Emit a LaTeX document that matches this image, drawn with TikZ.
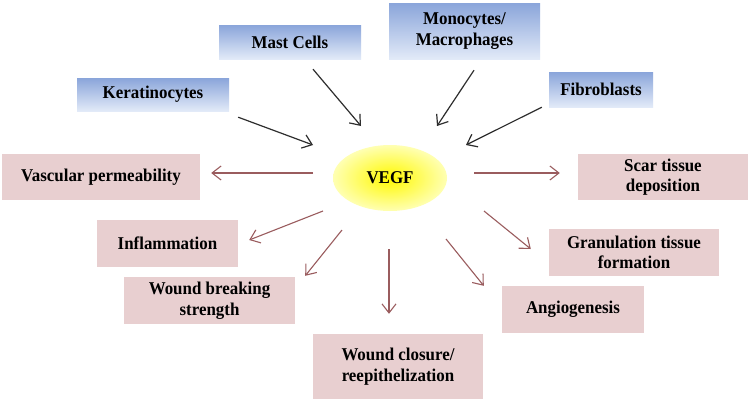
\documentclass[tikz,border=0pt]{standalone}
\usepackage{fontspec}
\setmainfont{Liberation Serif}[FakeStretch=0.94]
\usetikzlibrary{arrows.meta,shapes.geometric}
\definecolor{bluetop}{HTML}{8AA5DA}
\definecolor{bluebot}{HTML}{E2EAF8}
\definecolor{pinkbox}{HTML}{E8CFD0}
\definecolor{inarrow}{HTML}{2E2E2E}
\definecolor{outarrow}{HTML}{9A5C5E}
\tikzset{
  srcbox/.style={rectangle, top color=bluetop, bottom color=bluebot, draw=none,
    align=center, inner sep=0pt, font=\fontsize{18}{20.5}\selectfont\bfseries},
  effbox/.style={rectangle, fill=pinkbox, draw=none,
    align=center, inner sep=0pt, font=\fontsize{18}{20.5}\selectfont\bfseries},
  inarr/.style={draw=inarrow, line width=1.2pt, -{Straight Barb[length=9pt,width=14pt]}},
  outarr/.style={draw=outarrow, line width=1.1pt, -{Straight Barb[length=9pt,width=14pt]}},
}
\begin{document}
\begin{tikzpicture}[x=1pt,y=-1pt]
\useasboundingbox (0,0) rectangle (750,402);
\fill[white] (0,0) rectangle (750,402);
% VEGF
\node[ellipse, minimum width=114pt, minimum height=66pt, inner sep=0pt,
  shading=radial, inner color=yellow!95!orange, outer color=yellow!30,
  font=\fontsize{18}{20.5}\selectfont\bfseries] (vegf) at (390,178) {VEGF};
% sources
\node[srcbox, minimum width=142pt, minimum height=34pt] (mast) at (290,42) {Mast Cells};
\node[srcbox, minimum width=152pt, minimum height=33pt] (kera) at (153,94.5) {Keratinocytes};
\node[srcbox, minimum width=151pt, minimum height=56pt] (mono) at (464.5,31) {Monocytes/\\Macrophages};
\node[srcbox, minimum width=104pt, minimum height=35pt] (fibro) at (601,89.5) {Fibroblasts};
% effects
\node[effbox, minimum width=198pt, minimum height=46pt] (vasc) at (101,177) {Vascular permeability};
\node[effbox, minimum width=170pt, minimum height=46pt] (scar) at (663,177) {Scar tissue\\deposition};
\node[effbox, minimum width=141pt, minimum height=47pt] (infl) at (167.5,243.5) {Inflammation};
\node[effbox, minimum width=171pt, minimum height=47pt] (wbs) at (209.5,300.5) {Wound breaking\\strength};
\node[effbox, minimum width=170pt, minimum height=65pt] (wc) at (398,366.5) {Wound closure/\\reepithelization};
\node[effbox, minimum width=170pt, minimum height=47pt] (gran) at (634,252.5) {Granulation tissue\\formation};
\node[effbox, minimum width=142pt, minimum height=47pt] (angio) at (573,309.5) {Angiogenesis};
% input arrows
\draw[inarr] ([xshift=23pt,yshift=-10pt]mast.south) -- ([xshift=-29pt,yshift=52pt]vegf.center);
\draw[inarr] ([xshift=9pt,yshift=-6pt]kera.south east) -- ([xshift=-77pt,yshift=33pt]vegf.center);
\draw[inarr] ([xshift=9.5pt,yshift=-11pt]mono.south) -- ([xshift=47pt,yshift=52pt]vegf.center);
\draw[inarr] ([xshift=-7pt]fibro.south west) -- ([xshift=76pt,yshift=33pt]vegf.center);
% output arrows
\draw[outarr] ([xshift=-77pt,yshift=5pt]vegf.center) -- ([xshift=11pt,yshift=4pt]vasc.east);
\draw[outarr] ([xshift=84pt,yshift=5pt]vegf.center) -- ([xshift=-18pt,yshift=4pt]scar.west);
\draw[outarr] ([xshift=-67pt,yshift=-33pt]vegf.center) -- ([xshift=11pt,yshift=3.5pt]infl.east);
\draw[outarr] ([xshift=-48pt,yshift=-52pt]vegf.center) -- ([xshift=10pt,yshift=1pt]wbs.north east);
\draw[outarr] ([xshift=-1pt,yshift=-71pt]vegf.center) -- ([xshift=-9pt,yshift=20pt]wc.north);
\draw[outarr] ([xshift=56pt,yshift=-61pt]vegf.center) -- ([xshift=-18pt]angio.north west);
\draw[outarr] ([xshift=94pt,yshift=-33pt]vegf.center) -- ([xshift=-18pt,yshift=3.5pt]gran.west);
\end{tikzpicture}
\end{document}
